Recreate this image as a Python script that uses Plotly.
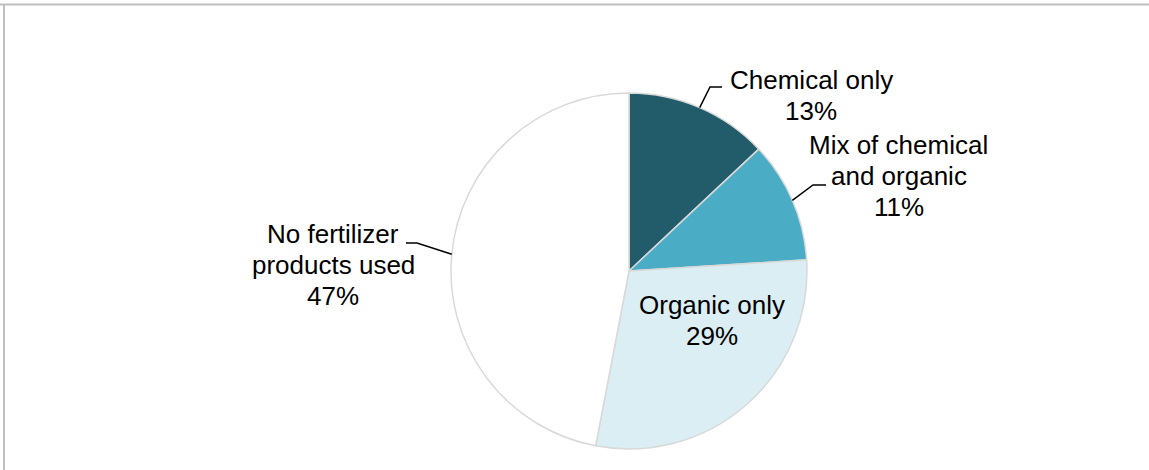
import numpy as np
import plotly.graph_objects as go

# slices, clockwise from 12 o'clock
labels = ["Chemical only", "Mix of chemical and organic", "Organic only", "No fertilizer products used"]
values = [13, 11, 29, 47]
label_lines = [["Chemical only"], ["Mix of chemical", "and organic"], ["Organic only"], ["No fertilizer", "products used"]]
colors = ["#225b6a", "#4bacc6", "#daeef3", "#ffffff"]

W, H = 1149, 470
cx, cy, r = 629, 271, 178   # pie centre / radius in pixels

# label placement (pixels): text centre x, first line centre y, leader elbow (x, y, end x) or None
text_pos = [(811, 80), (899, 145), (712, 305), (333, 234)]
leaders = [(710, 87, 722), (813, 185, 826), None, (417, 243, 406)]
line_gap = 31


def px(x):
    return x / W


def py(y):
    return 1 - y / H


fig = go.Figure(go.Pie(
    labels=labels, values=values, sort=False, direction="clockwise", rotation=0,
    marker=dict(colors=colors, line=dict(color="#d9d9d9", width=1.5)),
    textinfo="none", hoverinfo="label+percent", showlegend=False,
    domain=dict(x=[px(cx - r), px(cx + r)], y=[py(cy + r), py(cy - r)]),
))

annotations = []
shapes = []
total = sum(values)
cum = 0
for i, v in enumerate(values):
    mid = (cum + v / 2) / total * 2 * np.pi
    cum += v
    lines = label_lines[i] + [f"{v}%"]
    tx, ty = text_pos[i]
    for k, t in enumerate(lines):
        annotations.append(dict(
            x=px(tx), y=py(ty + k * line_gap), xref="paper", yref="paper",
            text=t, showarrow=False, xanchor="center", yanchor="middle",
            font=dict(family="Liberation Sans, Arial", size=26, color="#000000"),
        ))
    if leaders[i] is not None:
        ex = cx + r * np.sin(mid)
        ey = cy - r * np.cos(mid)
        bx, by, endx = leaders[i]
        shapes.append(dict(
            type="path", xref="paper", yref="paper",
            path=f"M {px(ex)},{py(ey)} L {px(bx)},{py(by)} L {px(endx)},{py(by)}",
            line=dict(color="#000000", width=1.5),
        ))

# chart frame (top and left edges visible)
shapes.append(dict(type="line", xref="paper", yref="paper", x0=0, x1=1, y0=py(4.5), y1=py(4.5),
                   line=dict(color="#bfbfbf", width=2)))
shapes.append(dict(type="line", xref="paper", yref="paper", x0=px(4), x1=px(4), y0=0, y1=py(4.5),
                   line=dict(color="#bfbfbf", width=2)))

fig.update_layout(
    width=W, height=H,
    margin=dict(l=0, r=0, t=0, b=0),
    paper_bgcolor="#ffffff", plot_bgcolor="#ffffff",
    annotations=annotations, shapes=shapes,
)

fig.write_html("out.html", config={"displayModeBar": False},
               post_script="document.body.style.margin='0';")
